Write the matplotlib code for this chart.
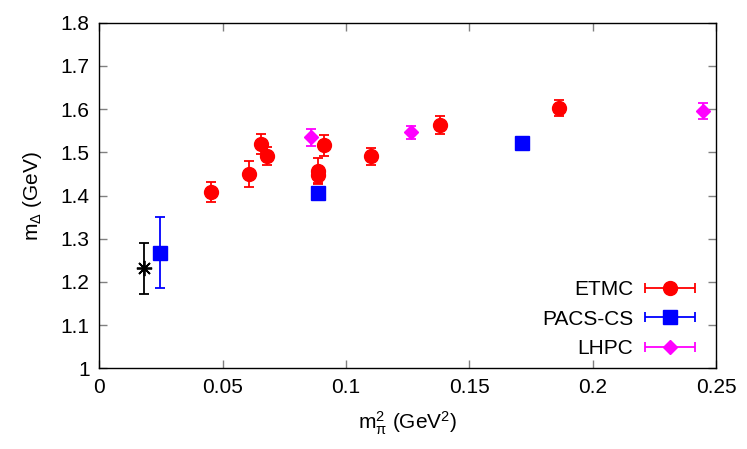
import numpy as np
import matplotlib
matplotlib.use('Agg')
import matplotlib.pyplot as plt
from matplotlib.container import ErrorbarContainer
from matplotlib.legend_handler import HandlerErrorbar

plt.rcParams['font.family'] = ['Liberation Sans', 'DejaVu Sans']
plt.rcParams['mathtext.fontset'] = 'custom'
plt.rcParams['mathtext.rm'] = 'Liberation Sans'
plt.rcParams['mathtext.it'] = 'Liberation Sans'
plt.rcParams['mathtext.default'] = 'regular'

# ETMC
etmc_x = [0.0453, 0.0607, 0.0655, 0.0679, 0.0886, 0.0887, 0.0911, 0.1101, 0.1380, 0.1863]
etmc_y = [1.408, 1.449, 1.519, 1.492, 1.457, 1.447, 1.516, 1.491, 1.563, 1.603]
etmc_e = [0.023, 0.030, 0.023, 0.021, 0.030, 0.019, 0.024, 0.020, 0.021, 0.018]

# PACS-CS
pacs_x = [0.0247, 0.0887, 0.1713]
pacs_y = [1.268, 1.406, 1.521]
pacs_e = [0.083, 0.010, 0.005]

# LHPC
lhpc_x = [0.0857, 0.1264, 0.2447]
lhpc_y = [1.535, 1.546, 1.596]
lhpc_e = [0.020, 0.015, 0.019]

# physical point
phys_x = [0.0182]
phys_y = [1.232]
phys_e = [0.059]

fs = 15

fig = plt.figure(figsize=(7.47, 4.49), dpi=100)
ax = fig.add_axes([0.1329, 0.1797, 0.9585 - 0.1329, 0.9494 - 0.1797])

kw = dict(linestyle='none', capsize=3.8, elinewidth=1.3, capthick=1.3)
ax.errorbar(etmc_x, etmc_y, yerr=etmc_e, color='red', marker='o', ms=10, **kw)
ax.errorbar(pacs_x, pacs_y, yerr=pacs_e, color='blue', marker='s', ms=10, **kw)
ax.errorbar(lhpc_x, lhpc_y, yerr=lhpc_e, color='magenta', marker='D', ms=7.5, **kw)
ax.errorbar(phys_x, phys_y, yerr=phys_e, color='black', marker=(8, 2, 0), ms=11, mew=1.3, **kw)

# legend handles: horizontal bars like gnuplot
h1 = ax.errorbar([np.nan], [np.nan], xerr=[np.nan], color='red', marker='o', ms=10, **kw)
h2 = ax.errorbar([np.nan], [np.nan], xerr=[np.nan], color='blue', marker='s', ms=10, **kw)
h3 = ax.errorbar([np.nan], [np.nan], xerr=[np.nan], color='magenta', marker='D', ms=7.5, **kw)
hl = 2.4
ax.legend([h1, h2, h3], ['ETMC', 'PACS-CS', 'LHPC'], loc='lower right',
          markerfirst=False, frameon=False, fontsize=fs, handlelength=hl,
          handletextpad=0.55, labelspacing=0.5, bbox_to_anchor=(0.996, -0.025),
          handler_map={ErrorbarContainer: HandlerErrorbar(xerr_size=hl / 2)})

ax.set_xlim(0, 0.25)
ax.set_ylim(1, 1.8)
ax.set_xticks([0, 0.05, 0.1, 0.15, 0.2, 0.25])
ax.set_xticklabels(['0', '0.05', '0.1', '0.15', '0.2', '0.25'])
ax.set_yticks(np.arange(1, 1.81, 0.1))
ax.set_yticklabels(['1', '1.1', '1.2', '1.3', '1.4', '1.5', '1.6', '1.7', '1.8'])
ax.tick_params(direction='in', length=6, width=1, color='#808080',
               top=True, right=True, labelsize=fs)
ax.tick_params(axis='x', pad=7)
ax.tick_params(axis='y', pad=7)
for s in ax.spines.values():
    s.set_linewidth(1)

ax.set_xlabel(r'm$_{\pi}^{2}$ (GeV$^{2}$)', fontsize=fs, labelpad=9)
ax.set_ylabel(r'm$_{\Delta}$ (GeV)', fontsize=fs, labelpad=12)

fig.savefig('out.png', dpi=100)
